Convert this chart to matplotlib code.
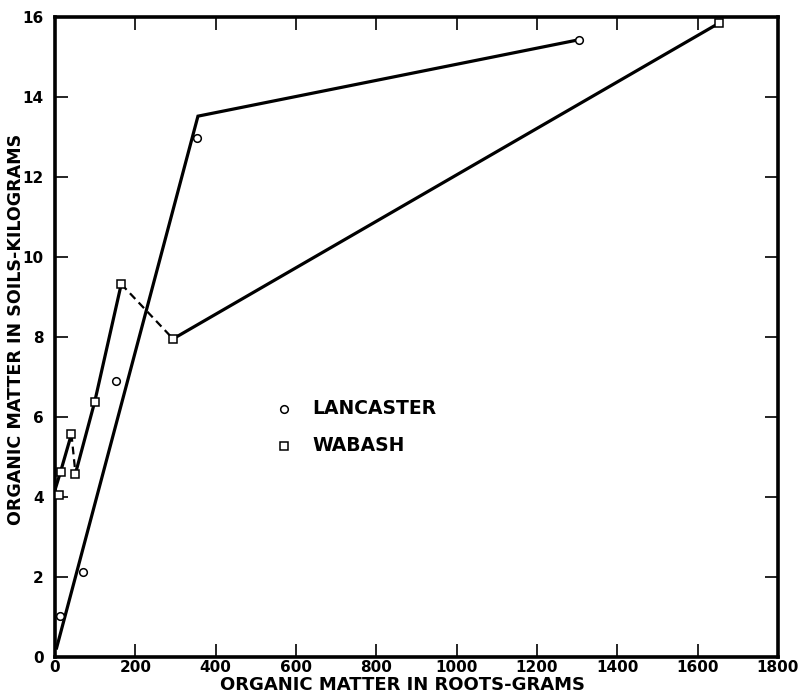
import matplotlib
matplotlib.use("Agg")
import matplotlib.pyplot as plt

# Data
lancaster_x = [12, 69, 153, 354, 1304]
lancaster_y = [1.02, 2.11, 6.89, 12.97, 15.43]

wabash_x = [10, 14, 41, 51, 99, 165, 294, 1654]
wabash_y = [4.04, 4.63, 5.57, 4.58, 6.38, 9.32, 7.95, 15.85]

# Hand-drawn fitted lines (vertices)
lancaster_fit_x = [4, 356, 1304]
lancaster_fit_y = [0.22, 13.52, 15.43]

wabash_solid1_x = [0, 14, 41]
wabash_solid1_y = [4.17, 4.63, 5.57]
wabash_dash1_x = [41, 51]
wabash_dash1_y = [5.57, 4.58]
wabash_solid2_x = [51, 99, 165]
wabash_solid2_y = [4.58, 6.38, 9.32]
wabash_dash2_x = [165, 294]
wabash_dash2_y = [9.32, 7.95]
wabash_solid3_x = [294, 1654]
wabash_solid3_y = [7.95, 15.85]

x_ticks = [0, 200, 400, 600, 800, 1000, 1200, 1400, 1600, 1800]
y_ticks = [0, 2, 4, 6, 8, 10, 12, 14, 16]

legend_labels = ["LANCASTER", "WABASH"]

fig = plt.figure(figsize=(8.05, 6.94), dpi=100)
ax = fig.add_axes([0.0683, 0.0537, 0.898, 0.9218])

lw = 2.3
ax.plot(lancaster_fit_x, lancaster_fit_y, color="black", lw=lw, zorder=2,
        solid_joinstyle="miter")
for xs, ys in [(wabash_solid1_x, wabash_solid1_y), (wabash_solid2_x, wabash_solid2_y),
               (wabash_solid3_x, wabash_solid3_y)]:
    ax.plot(xs, ys, color="black", lw=lw, zorder=2, solid_joinstyle="miter")
for xs, ys in [(wabash_dash1_x, wabash_dash1_y), (wabash_dash2_x, wabash_dash2_y)]:
    ax.plot(xs, ys, color="black", lw=1.6, ls=(0, (3.5, 2.2)), zorder=2)

ax.plot(lancaster_x, lancaster_y, ls="none", marker="o", ms=5.5, mfc="white",
        mec="black", mew=1.1, zorder=3, clip_on=False)
ax.plot(wabash_x, wabash_y, ls="none", marker="s", ms=5.5, mfc="white",
        mec="black", mew=1.1, zorder=3, clip_on=False)

ax.set_xlim(0, 1800)
ax.set_ylim(0, 16)
ax.set_xticks(x_ticks)
ax.set_yticks(y_ticks)
ax.set_xticklabels([str(v) for v in x_ticks], fontweight="bold")
ax.set_yticklabels([str(v) for v in y_ticks], fontweight="bold")
ax.tick_params(direction="in", length=9.5, width=1.2, top=True, right=True,
               labelsize=11, colors="black")
ax.tick_params(axis="x", pad=2.5)
ax.tick_params(axis="y", pad=8)
for s in ax.spines.values():
    s.set_linewidth(2.6)

ax.set_xlabel("ORGANIC MATTER IN ROOTS-GRAMS", fontsize=13, fontweight="bold")
ax.set_ylabel("ORGANIC MATTER IN SOILS-KILOGRAMS", fontsize=12.6, fontweight="bold")
ax.xaxis.set_label_coords(0.481, -0.0297)
ax.yaxis.set_label_coords(-0.042, 0.511)

# legend drawn as markers + text in data coordinates
ax.plot([570], [6.2], ls="none", marker="o", ms=5.5, mfc="white", mec="black", mew=1.1)
ax.plot([570], [5.28], ls="none", marker="s", ms=5.5, mfc="white", mec="black", mew=1.1)
ax.text(640, 6.2, legend_labels[0], fontsize=13.5, fontweight="bold",
        va="center", ha="left")
ax.text(640, 5.28, legend_labels[1], fontsize=13.5, fontweight="bold",
        va="center", ha="left")

fig.savefig("out.png", dpi=100)
